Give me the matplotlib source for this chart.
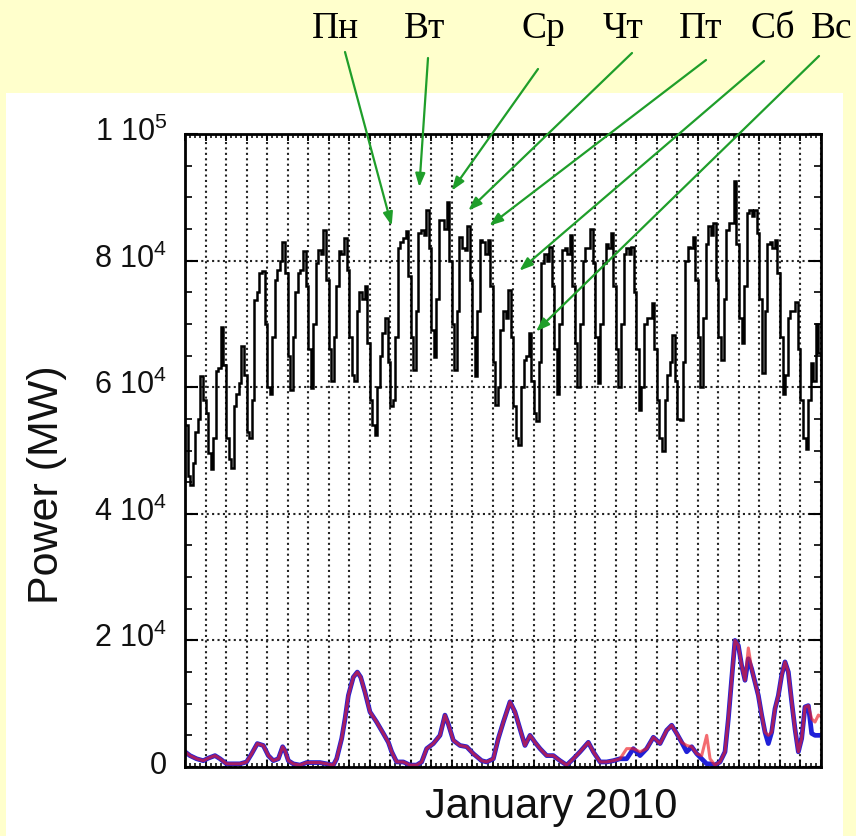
import numpy as np
import matplotlib
matplotlib.use("Agg")
import matplotlib.pyplot as plt
from matplotlib.patches import Rectangle
from matplotlib.transforms import blended_transform_factory, ScaledTranslation

plt.rcParams['font.family'] = ['Liberation Sans', 'DejaVu Sans']
plt.rcParams['mathtext.fontset'] = 'custom'
plt.rcParams['mathtext.rm'] = 'Liberation Sans'
plt.rcParams['mathtext.it'] = 'Liberation Sans:italic'
plt.rcParams['mathtext.bf'] = 'Liberation Sans:bold'

# ---------------- data ----------------
# hourly load, sampled every 3 h (h0,h3,...,h21) for each day of January 2010, in thousands of MW
load_k = [
    [54, 46, 44.5, 48, 53, 55, 61.7, 58],        # 1 Fri
    [56, 49.6, 47, 52, 62.5, 63, 69.5, 63.5],    # 2 Sat
    [52, 48.6, 47.3, 57, 59, 60.7, 66.5, 62],    # 3 Sun
    [53, 52, 58, 73.8, 75, 78, 78.3, 70],        # 4 Mon
    [60, 59, 68, 77, 78.5, 80, 83, 78],          # 5
    [65, 59.5, 68, 75, 78, 78.5, 81.5, 76],      # 6
    [66, 59.8, 70, 79.6, 81.7, 81, 84.8, 77],    # 7
    [66, 61, 68, 76, 81.5, 81, 83.5, 78.5],      # 8
    [68, 62, 61, 72, 75, 74, 76, 67],            # 9 Sat
    [58, 54, 52.5, 60, 65, 68.5, 71, 64],        # 10 Sun
    [57, 58, 68, 82, 83, 83.5, 84.6, 77.5],      # 11 Mon
    [68, 62.7, 72, 84.3, 84.8, 84, 88, 82],      # 12
    [69, 64.8, 74, 86.4, 86.4, 85, 89.2, 80],    # 13
    [70, 62.7, 72, 83.8, 82, 81.7, 85.5, 77],    # 14
    [68, 61.7, 72, 83.3, 83, 81, 83.3, 76],      # 15
    [64, 57.2, 60, 69, 72, 71, 75.4, 68],        # 16 Sat
    [57, 52, 50.9, 60, 64.3, 65, 68.5, 61],      # 17 Sun
    [56, 54.6, 64, 79.6, 81, 80, 82.2, 76],      # 18 Mon
    [66, 59, 70, 81.7, 82, 81, 84, 76],          # 19
    [67, 60, 70, 80, 82, 82, 85, 79.6],          # 20
    [68, 60.6, 70, 79.6, 82.7, 82, 84.3, 76],    # 21
    [66, 60, 70, 81, 82, 81, 82.2, 75],          # 22
    [66, 56.4, 60, 70, 71, 71, 73.3, 66],        # 23 Sat
    [58, 52, 50, 58, 62, 64, 68.3, 61],          # 24 Sun
    [55, 54.8, 64, 80, 82.2, 82, 83.8, 77],      # 25 Mon
    [68, 60, 71, 82.7, 85.4, 84, 86, 77],        # 26
    [68, 64.3, 74, 84.8, 86, 86, 92.5, 82.7],    # 27
    [71, 67, 76, 87.5, 88, 87, 88, 84.3],        # 28
    [74, 62.2, 72, 82.7, 83, 82, 83.3, 78],      # 29
    [68, 59, 62, 71, 72, 72, 73.5, 66],          # 30 Sat
    [58, 52, 50.2, 58, 63.8, 61, 70, 65.4],      # 31 Sun
]

# wind generation (two series), hour of month and value in units of 10^4 MW
wind_hours = [0, 5.8, 13.6, 21.4, 27.3, 35.1, 41, 48.7, 56.5, 64.3, 72.1, 78, 84.6, 91.6,
              97.5, 103.3, 109.2, 114.2, 117, 120.9, 126.7, 134.5, 142.3, 150.1, 157.9,
              165.7, 173.5, 177.4, 183.3, 187.2, 191.1, 196.9, 201.6, 205.5, 210.6, 216.4,
              224.2, 232, 237.9, 241.8, 247.6, 255.4, 263.2, 271, 276.9, 282.7, 290.5,
              298.3, 304.1, 308, 313.9, 321.7, 329.5, 337.3, 347, 352.9, 360.7, 366.5,
              372.4, 380.2, 386, 391.9, 397.7, 403.6, 409.4, 415.3, 423.1, 430.9, 438.7,
              446.5, 454.3, 462.1, 471.8, 477.7, 485.5, 493.3, 501.1, 508.9, 516.7, 524.5,
              532.3, 540.1, 547.9, 555.7, 563.5, 569.3, 575.2, 581, 586.9, 592.7, 598.6,
              604.4, 610.3, 614.2, 620, 625.9, 631.7, 635.6, 639.5, 643.4, 647.3, 651.2,
              655.1, 659, 662.9, 666.8, 670.7, 674.6, 678.5, 682.4, 686.3, 690.2, 694.1,
              698, 701.9, 705.8, 709.7, 713.6, 717.5, 721.4, 725.3, 729.2, 733.1, 737,
              740.9, 744]
wind_blue = [0.24, 0.18, 0.13, 0.10, 0.14, 0.18, 0.13, 0.05, 0.05, 0.05, 0.08, 0.21, 0.37, 0.34,
             0.18, 0.10, 0.13, 0.32, 0.26, 0.10, 0.05, 0.03, 0.07, 0.07, 0.07,
             0.05, 0.03, 0.13, 0.45, 0.76, 1.13, 1.42, 1.50, 1.42, 1.18, 0.87,
             0.71, 0.53, 0.39, 0.24, 0.08, 0.08, 0.03, 0.03, 0.08, 0.29, 0.37,
             0.50, 0.82, 0.68, 0.42, 0.34, 0.32, 0.21, 0.10, 0.08, 0.13, 0.45,
             0.71, 1.03, 0.87, 0.60, 0.34, 0.50, 0.39, 0.29, 0.18, 0.18, 0.10,
             0.03, 0.13, 0.24, 0.39, 0.24, 0.08, 0.08, 0.10, 0.13, 0.13, 0.29,
             0.18, 0.29, 0.47, 0.37, 0.58, 0.66, 0.53, 0.39, 0.24, 0.32, 0.21,
             0.13, 0.05, 0.05, 0.03, 0.08, 0.24, 0.76, 1.39, 2.00, 1.92, 1.60,
             1.37, 1.71, 1.55, 1.34, 1.13, 0.82, 0.55, 0.37, 0.55, 0.92, 1.13,
             1.45, 1.66, 1.50, 1.03, 0.60, 0.24, 0.45, 0.95, 0.97, 0.53, 0.50,
             0.50, 0.50]
wind_red = [0.24, 0.18, 0.13, 0.10, 0.14, 0.18, 0.13, 0.05, 0.05, 0.05, 0.08, 0.21, 0.37, 0.34,
            0.18, 0.10, 0.13, 0.32, 0.26, 0.10, 0.05, 0.03, 0.07, 0.07, 0.07,
            0.05, 0.03, 0.13, 0.45, 0.76, 1.13, 1.42, 1.50, 1.42, 1.18, 0.87,
            0.71, 0.53, 0.39, 0.24, 0.08, 0.08, 0.03, 0.03, 0.08, 0.29, 0.37,
            0.50, 0.82, 0.68, 0.42, 0.34, 0.32, 0.21, 0.10, 0.08, 0.13, 0.45,
            0.71, 1.03, 0.87, 0.60, 0.34, 0.50, 0.39, 0.29, 0.18, 0.18, 0.10,
            0.03, 0.13, 0.24, 0.39, 0.24, 0.08, 0.08, 0.10, 0.13, 0.29, 0.29,
            0.24, 0.29, 0.47, 0.37, 0.58, 0.66, 0.53, 0.39, 0.34, 0.32, 0.21,
            0.18, 0.50, 0.13, 0.03, 0.08, 0.24, 0.76, 1.39, 2.00, 1.92, 1.60,
            1.37, 1.88, 1.55, 1.34, 1.13, 0.82, 0.55, 0.50, 0.55, 0.92, 1.13,
            1.45, 1.66, 1.50, 1.03, 0.60, 0.24, 0.45, 0.95, 0.97, 0.76, 0.71,
            0.82, 0.80]

y_ticks = [0, 20000, 40000, 60000, 80000, 100000]
y_tick_labels = ['0', r'$\mathregular{2\ 10^{4}}$', r'$\mathregular{4\ 10^{4}}$',
                 r'$\mathregular{6\ 10^{4}}$', r'$\mathregular{8\ 10^{4}}$',
                 r'$\mathregular{1\ 10^{5}}$']
x_label = 'January 2010'
y_label = 'Power (MW)'

day_labels = ['Пн', 'Вт', 'Ср', 'Чт', 'Пт', 'Сб', 'Вс']
# points the arrows point at (hour of month, MW)
arrow_tips = [(241.8, 85500), (274.1, 91600), (312.0, 91050), (331.4, 87900),
              (356.0, 85500), (391.1, 78400), (410.6, 68800)]

# ---------------- figure ----------------
W, H = 856, 837
fig = plt.figure(figsize=(W / 100, H / 100), dpi=100)
fig.patch.set_facecolor('#FFFFCC')
fig.add_artist(Rectangle((6 / W, 0), (843 - 6) / W, (837 - 94) / H,
                         transform=fig.transFigure, facecolor='white',
                         edgecolor='none', zorder=-10))

ax = fig.add_axes([185 / W, 1 - 768 / H, 636 / W, 633 / H])
ax.set_facecolor('white')

load = np.array(load_k, dtype=float).ravel() * 1000
edges = np.arange(len(load) + 1) * 3
ax.stairs(load, edges, baseline=None, color='black', linewidth=1.8, zorder=3)

wh = np.array(wind_hours)
ax.plot(wh, np.array(wind_blue) * 1e4, color='#2020d8', linewidth=3.4, zorder=4)
ax.plot(wh, np.array(wind_red) * 1e4, color='#ee1c24', linewidth=2.2, alpha=0.65, zorder=5)

ax.set_xlim(0, 744)
ax.set_ylim(0, 100000)
ax.set_xticks(np.arange(0, 745, 24))
ax.set_xticks(np.arange(0, 745, 6), minor=True)
ax.set_yticks(y_ticks)
ax.set_yticks(np.arange(0, 100001, 5000), minor=True)
ax.tick_params(axis='both', which='both', direction='in', top=True, right=True,
               labelbottom=False, labelleft=False, color='black')
ax.tick_params(axis='x', which='major', length=5, width=1.3)
ax.tick_params(axis='x', which='minor', length=3, width=1.1)
ax.tick_params(axis='y', which='major', length=9, width=1.5)
ax.tick_params(axis='y', which='minor', length=5, width=1.2)
ax.grid(True, which='major', color='#222222', linestyle=(0, (1, 1.6)), linewidth=1.5)
for s in ax.spines.values():
    s.set_linewidth(2)
    s.set_zorder(6)

trans = blended_transform_factory(ax.transAxes, ax.transData) + \
    ScaledTranslation(0, -4.3 / 72, fig.dpi_scale_trans)
for v, lbl in zip(y_ticks, y_tick_labels):
    ax.text(-0.028, v, lbl, transform=trans, ha='right', va='baseline', fontsize=22,
            color='#111111', clip_on=False)

fig.text(47 / W, 1 - 485 / H, y_label, rotation=90, ha='center', va='center',
         fontsize=31, color='#111111')
fig.text(551 / W, 1 - 818 / H, x_label, ha='center', va='baseline', fontsize=30,
         color='#111111')

label_x = [335, 425, 543, 623, 701, 773, 832]
tail_xy = [(345, 53), (428, 59), (538, 70), (632, 54), (706, 61), (764, 62), (819, 57)]
green = '#1f9e2a'
for lbl, lx, (tx, ty), tip in zip(day_labels, label_x, tail_xy, arrow_tips):
    fig.text(lx / W, 1 - 38 / H, lbl, ha='center', va='baseline', fontsize=27,
             family=['Liberation Serif', 'DejaVu Serif'], color='black')
    ax.annotate('', xy=tip, xycoords='data', xytext=(tx / W, 1 - ty / H),
                textcoords='figure fraction', annotation_clip=False,
                arrowprops=dict(arrowstyle='-|>,head_length=0.5,head_width=0.18',
                                mutation_scale=16, color=green, lw=1.6,
                                shrinkA=0, shrinkB=0), zorder=8)

fig.savefig('out.png', dpi=100, facecolor=fig.get_facecolor())
